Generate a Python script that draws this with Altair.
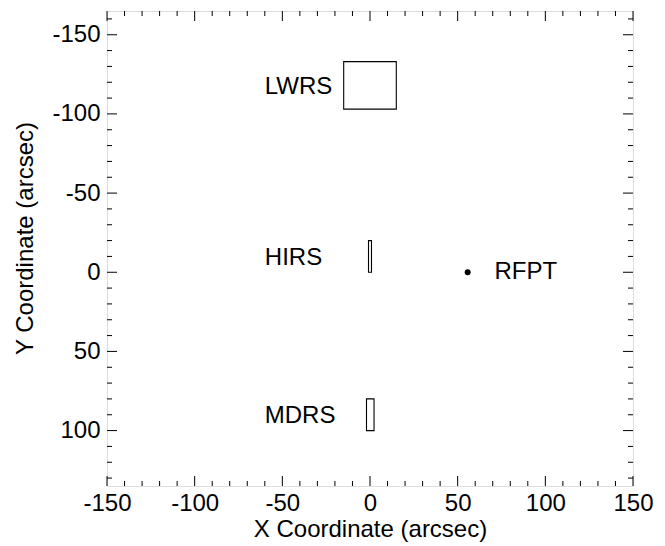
import altair as alt
import pandas as pd

# Apertures (arcsec)
ap_names = ["LWRS", "HIRS", "MDRS"]
ap_x1 = [-15.0, -0.85, -2.0]
ap_x2 = [15.0, 0.85, 2.3]
ap_y1 = [-133.0, -20.0, 80.0]
ap_y2 = [-103.0, 0.0, 100.0]

# Aperture labels
lab_text = ["LWRS", "HIRS", "MDRS"]
lab_x = [-60.0, -60.0, -60.0]
lab_y = [-117.0, -9.0, 90.5]

# Reference point
pt_name = ["RFPT"]
pt_x = [55.7]
pt_y = [0.0]
pt_lab_x = [71.0]

# Axis ticks
x_major = [-150, -100, -50, 0, 50, 100, 150]
x_minor = [v for v in range(-140, 150, 10) if v % 50 != 0]
y_major = [-150, -100, -50, 0, 50, 100]
y_minor = [v for v in range(-160, 140, 10) if v % 50 != 0]

X_DOM = [-150, 150]
Y_DOM = [-165, 135]
W, H = 526, 475
MAJ, MIN = 10, 5
FONT = "Liberation Sans"

xs = alt.Scale(domain=X_DOM, nice=False, zero=False)
ys = alt.Scale(domain=Y_DOM, nice=False, zero=False, reverse=True)

ap_df = pd.DataFrame({"name": ap_names, "x1": ap_x1, "x2": ap_x2, "y1": ap_y1, "y2": ap_y2})
lab_df = pd.DataFrame({"t": lab_text, "x": lab_x, "y": lab_y})
pt_df = pd.DataFrame({"t": pt_name, "x": pt_x, "y": pt_y, "lx": pt_lab_x})

xaxis = alt.Axis(values=x_major, ticks=False, domain=False, grid=False,
                 labelFontSize=24, labelFont=FONT, labelColor="black",
                 labelPadding=5, labelExpr="'' + datum.value", labelFlush=False,
                 labelOverlap=False,
                 title="X Coordinate (arcsec)", titleFontSize=24, titleFont=FONT,
                 titleFontWeight="normal", titleColor="black", titlePadding=2)
yaxis = alt.Axis(values=y_major, ticks=False, domain=False, grid=False,
                 labelFontSize=24, labelFont=FONT, labelColor="black",
                 labelPadding=7, labelExpr="'' + datum.value", labelFlush=False,
                 labelOverlap=False,
                 title="Y Coordinate (arcsec)", titleFontSize=24, titleFont=FONT,
                 titleFontWeight="normal", titleColor="black", titlePadding=14,
                 titleY=227)

rects = alt.Chart(ap_df).mark_rect(fill=None, stroke="black", strokeWidth=1.1).encode(
    x=alt.X("x1:Q", scale=xs, axis=xaxis),
    x2="x2:Q",
    y=alt.Y("y1:Q", scale=ys, axis=yaxis),
    y2="y2:Q",
)

labels = alt.Chart(lab_df).mark_text(align="left", baseline="middle", fontSize=24,
                                     font=FONT, color="black").encode(
    x=alt.X("x:Q", scale=xs), y=alt.Y("y:Q", scale=ys), text="t:N")

dot = alt.Chart(pt_df).mark_circle(size=36, color="black", opacity=1).encode(
    x=alt.X("x:Q", scale=xs), y=alt.Y("y:Q", scale=ys))
dot_lab = alt.Chart(pt_df).mark_text(align="left", baseline="middle", fontSize=24,
                                     font=FONT, color="black").encode(
    x=alt.X("lx:Q", scale=xs), y=alt.Y("y:Q", scale=ys), text="t:N")


def xticks(vals, length):
    df = pd.DataFrame({"v": vals})
    bot = alt.Chart(df).mark_rule(color="black", strokeWidth=1).encode(
        x=alt.X("v:Q", scale=xs), y=alt.value(H), y2=alt.value(H - length))
    top = alt.Chart(df).mark_rule(color="black", strokeWidth=1).encode(
        x=alt.X("v:Q", scale=xs), y=alt.value(0), y2=alt.value(length))
    return [bot, top]


def yticks(vals, length):
    df = pd.DataFrame({"v": vals})
    left = alt.Chart(df).mark_rule(color="black", strokeWidth=1).encode(
        y=alt.Y("v:Q", scale=ys), x=alt.value(0), x2=alt.value(length))
    right = alt.Chart(df).mark_rule(color="black", strokeWidth=1).encode(
        y=alt.Y("v:Q", scale=ys), x=alt.value(W), x2=alt.value(W - length))
    return [left, right]


layers = [rects, labels, dot, dot_lab]
layers += xticks(x_major, MAJ) + xticks(x_minor, MIN)
layers += yticks(y_major, MAJ) + yticks(y_minor, MIN)

chart = alt.layer(*layers).properties(
    width=W, height=H,
    autosize=alt.AutoSizeParams(type="none"),
    padding={"left": 99, "top": 3, "right": 24, "bottom": 60},
).configure_view(stroke="black", strokeWidth=1.2).configure(background="white")

chart.save("out.html", embed_options={"renderer": "svg", "actions": False})
